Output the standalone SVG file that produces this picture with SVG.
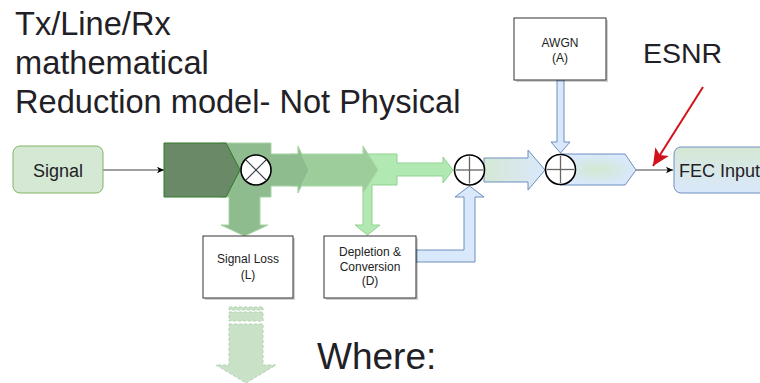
<svg xmlns="http://www.w3.org/2000/svg" width="760" height="383" viewBox="0 0 760 383">
<style>
  text { font-family: "Liberation Sans", Arial, sans-serif; fill: #1f2126; }
  .big { font-size: 32.6px; }
  .box { fill: #ffffff; stroke: #333333; stroke-width: 1; }
  .shadow { fill: #000000; opacity: 0.18; }
  .small { font-size: 12px; text-anchor: middle; fill: #222; }
  .blue { fill: #dae8fc; stroke: #6c8ebf; stroke-width: 1; }
  .op { fill: #ffffff; stroke: #000000; stroke-width: 1.6; }
  .opl { stroke: #666666; stroke-width: 1.3; }
  .wire { stroke: #808080; stroke-width: 1.3; fill: none; }
</style>
<defs>
  <marker id="arr" markerWidth="8" markerHeight="8" refX="7" refY="4" orient="auto" markerUnits="userSpaceOnUse">
    <path d="M0,0.8 L7,4 L0,7.2 L1.8,4 Z" fill="#000"/>
  </marker>
  <marker id="redarr" markerWidth="20" markerHeight="18" refX="17" refY="9" orient="auto" markerUnits="userSpaceOnUse">
    <path d="M0,1 L17,9 L0,17 L4,9 Z" fill="#d0121b"/>
  </marker>
  <linearGradient id="gv" x1="0" y1="0" x2="0" y2="1">
    <stop offset="0" stop-color="#d5e8d4"/>
    <stop offset="1" stop-color="#dae8fc"/>
  </linearGradient>
  <linearGradient id="gh" x1="0" y1="0" x2="1" y2="0">
    <stop offset="0" stop-color="#d5e8d4"/>
    <stop offset="1" stop-color="#dae8fc"/>
  </linearGradient>
  <radialGradient id="gr" cx="0.5" cy="0.5" r="0.5">
    <stop offset="0" stop-color="#d3e8d0"/>
    <stop offset="1" stop-color="#dae8fc"/>
  </radialGradient>
</defs>

<g id="title">
  <text class="big" x="15" y="35">Tx/Line/Rx</text>
  <text class="big" x="15" y="74">mathematical</text>
  <text class="big" x="15" y="113">Reduction model- Not Physical</text>
</g>

<g id="connectors">
  <line class="wire" x1="103" y1="170" x2="164" y2="170" marker-end="url(#arr)"/>
  <polygon points="363,154 397,154 397,163 443,163 443,157 453,170 443,183 443,176 397,176 397,185 372,185 372,225 380,225 367.5,235 355,225 363,225" fill="#b2e8b2" stroke="#8fd38f" stroke-width="1"/>
  <polygon points="290,154 363,154 363,146 378,170 363,193 363,186 290,186" fill="#9ccd9a" stroke="#a8d8a6" stroke-width="1"/>
  <polygon points="220,143 271,143 271,154 298,154 298,146 309,170 298,193 298,186 271,186 271,197 260,197 260,225 268,225 244.5,236 221,225 229,225 229,197 220,197" fill="#8fbc8f" stroke="#a6d3a5" stroke-width="1"/>
  <g fill="#c9e1c7" stroke="#b3d4b1" stroke-dasharray="3 2" stroke-width="1">
    <rect x="229" y="307" width="34" height="3"/>
    <rect x="229" y="312" width="34" height="9"/>
    <polygon points="229,324 263,324 263,365 276,365 246,383 216,365 229,365"/>
  </g>
  <polygon class="blue" points="416,250 464,250 464,197 455,197 469.5,186 484,197 475,197 475,262 416,262"/>
  <polygon points="484,158 528,158 528,150 545,170 528,190 528,182 484,182" fill="url(#gh)" stroke="#6c8ebf" stroke-width="1"/>
  <polygon class="blue" points="557,80 564,80 564,142 570,142 560.5,153 551,142 557,142"/>
  <polygon points="560,154 625,154 636,170 625,185 560,185" fill="url(#gr)" stroke="#6c8ebf" stroke-width="1"/>
  <line class="wire" x1="636" y1="170" x2="673" y2="170" marker-end="url(#arr)"/>
  <line x1="703" y1="87" x2="653" y2="166" stroke="#d0121b" stroke-width="2" marker-end="url(#redarr)"/>
</g>

<g id="signal">
  <rect x="13" y="146" width="90" height="47" rx="7" fill="#d5e8d4" stroke="#82b366" stroke-width="1"/>
  <text x="58" y="176.5" font-size="18" text-anchor="middle">Signal</text>
</g>

<g id="tx-stage">
  <polygon points="164,143 226,143 240,170 226,197 164,197" fill="#6a8a67" stroke="#2f7a2c" stroke-width="1"/>
</g>

<g id="multiply">
  <circle class="op" cx="256" cy="170" r="15"/>
  <line x1="245.4" y1="159.4" x2="266.6" y2="180.6" stroke="#333" stroke-width="1.1"/>
  <line x1="266.6" y1="159.4" x2="245.4" y2="180.6" stroke="#333" stroke-width="1.1"/>
</g>

<g id="signal-loss">
  <rect class="shadow" x="205" y="238" width="90" height="62"/>
  <rect class="box" x="203" y="236" width="90" height="62"/>
  <text class="small" x="248" y="263">Signal Loss</text>
  <text class="small" x="248" y="279">(L)</text>
</g>

<g id="depletion">
  <rect class="shadow" x="326" y="238" width="92" height="62"/>
  <rect class="box" x="324" y="236" width="92" height="62"/>
  <text class="small" x="370" y="256">Depletion &amp;</text>
  <text class="small" x="370" y="270.5">Conversion</text>
  <text class="small" x="370" y="285">(D)</text>
</g>

<g id="sum1">
  <circle class="op" cx="469.5" cy="170" r="15"/>
  <line class="opl" x1="456" y1="170" x2="483" y2="170"/>
  <line class="opl" x1="469.5" y1="156.5" x2="469.5" y2="183.5"/>
</g>

<g id="awgn">
  <rect class="shadow" x="516" y="20" width="92" height="62"/>
  <rect class="box" x="514" y="18" width="92" height="62"/>
  <text class="small" x="560" y="47">AWGN</text>
  <text class="small" x="560" y="62">(A)</text>
</g>

<g id="sum2">
  <circle class="op" cx="560.5" cy="169.5" r="15"/>
  <line class="opl" x1="547" y1="169.5" x2="574" y2="169.5"/>
  <line class="opl" x1="560.5" y1="156" x2="560.5" y2="183"/>
</g>

<g id="fec-input">
  <rect x="674" y="147" width="100" height="46" rx="7" fill="url(#gv)" stroke="#6c8ebf" stroke-width="1"/>
  <text x="679" y="176.5" font-size="18">FEC Input</text>
</g>

<g id="labels">
  <text x="643" y="63" font-size="28.5">ESNR</text>
  <text x="317" y="369" font-size="37">Where:</text>
</g>
</svg>
